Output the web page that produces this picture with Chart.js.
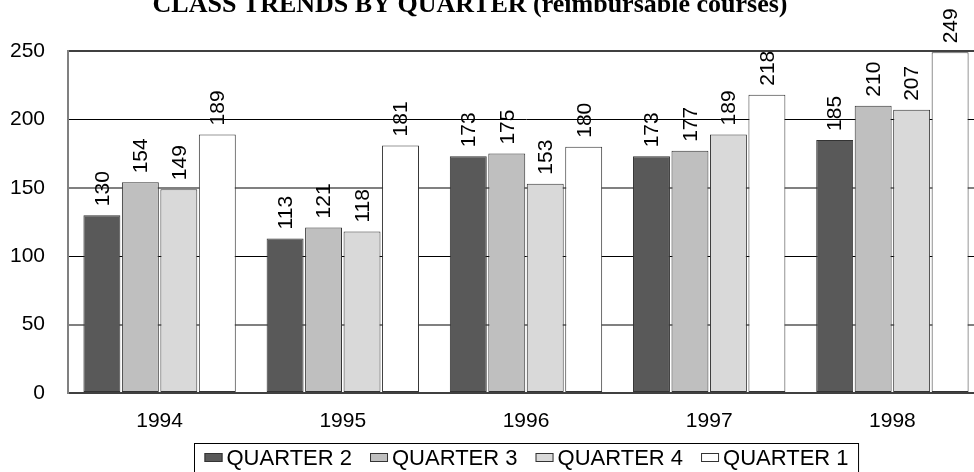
<!DOCTYPE html>
<html>
<head>
<meta charset="utf-8">
<script src="https://cdn.jsdelivr.net/npm/chart.js@4/dist/chart.umd.min.js"></script>
<style>
  html, body { margin: 0; padding: 0; background: #ffffff; overflow: hidden; }
  #wrap { width: 974px; height: 472px; overflow: hidden; position: relative; }
  canvas { display: block; }
</style>
</head>
<body>
<div id="wrap"><canvas id="chart" width="990" height="472"></canvas></div>
<script>
// Class counts per year, one array per quarter
const years = ['1994', '1995', '1996', '1997', '1998'];
const quarter2 = [130, 113, 173, 173, 185];
const quarter3 = [154, 121, 175, 177, 210];
const quarter4 = [149, 118, 153, 189, 207];
const quarter1 = [189, 181, 180, 218, 249];
const yTicks = [0, 50, 100, 150, 200, 250];

const seriesNames = ['QUARTER 2', 'QUARTER 3', 'QUARTER 4', 'QUARTER 1'];
const seriesValues = [quarter2, quarter3, quarter4, quarter1];
const seriesFill = ['#595959', '#bfbfbf', '#d9d9d9', '#ffffff'];

const SANS = '"Liberation Sans", Arial, sans-serif';
const SERIF = '"Liberation Serif", "Times New Roman", serif';

// Rotated value labels above every bar
const valueLabels = {
  id: 'valueLabels',
  afterDatasetsDraw(chart) {
    const ctx = chart.ctx;
    ctx.save();
    ctx.font = '21px ' + SANS;
    ctx.fillStyle = '#000';
    ctx.textAlign = 'left';
    ctx.textBaseline = 'middle';
    chart.data.datasets.forEach((ds, i) => {
      chart.getDatasetMeta(i).data.forEach((bar, j) => {
        ctx.save();
        ctx.translate(bar.x + 1, bar.y - 9);
        ctx.rotate(-Math.PI / 2);
        ctx.fillText(String(ds.data[j]), 0, 0);
        ctx.restore();
      });
    });
    ctx.restore();
  }
};

// Title and boxed legend
const decorations = {
  id: 'decorations',
  afterDraw(chart) {
    const ctx = chart.ctx;
    ctx.save();
    ctx.fillStyle = '#000';
    ctx.font = 'bold 26px ' + SERIF;
    ctx.textAlign = 'center';
    ctx.textBaseline = 'alphabetic';
    ctx.fillText('CLASS TRENDS BY QUARTER (reimbursable courses)', 470, 12);

    // legend
    ctx.font = '22px ' + SANS;
    const sw = 18, sh = 9, gapText = 4, gapItem = 18, margin = 10;
    const items = chart.data.datasets.map(ds => ({
      label: ds.label, fill: ds.backgroundColor, w: ctx.measureText(ds.label).width
    }));
    let total = 0;
    items.forEach((it, k) => { total += sw + gapText + it.w + (k ? gapItem : 0); });
    const boxW = total + margin * 2;
    const cx = (chart.chartArea.left + chart.chartArea.right) / 2;
    const boxL = Math.round(cx - boxW / 2) + 0.5;
    const boxTop = 443.5;
    ctx.strokeStyle = '#000';
    ctx.lineWidth = 1;
    ctx.strokeRect(boxL, boxTop, boxW, 60);
    let x = boxL + margin;
    const baseY = 465;
    ctx.textAlign = 'left';
    items.forEach((it, k) => {
      if (k) x += gapItem;
      ctx.fillStyle = it.fill;
      ctx.fillRect(x, 453, sw, sh);
      ctx.strokeStyle = '#333';
      ctx.strokeRect(x + 0.5, 453.5, sw - 1, sh - 1);
      x += sw + gapText;
      ctx.fillStyle = '#000';
      ctx.fillText(it.label, x, baseY);
      x += it.w;
    });
    ctx.restore();
  }
};

const datasets = seriesNames.map((name, i) => ({
  label: name,
  data: seriesValues[i],
  backgroundColor: seriesFill[i],
  borderColor: '#333333',
  borderWidth: 1,
  borderSkipped: false,
  categoryPercentage: 0.84,
  barPercentage: 0.96
}));

function gridColor(ctx) {
  const v = ctx.tick && ctx.tick.value;
  if (v === 250) return '#404040';
  if (v === 200 || v === 100) return '#000000';
  if (v === 0) return 'rgba(0,0,0,0)';
  return '#808080';
}
function gridWidth(ctx) {
  const v = ctx.tick && ctx.tick.value;
  if (v === 250) return 2;
  if (v === 200 || v === 100) return 1;
  return 2;
}

new Chart(document.getElementById('chart'), {
  type: 'bar',
  data: { labels: years, datasets },
  plugins: [valueLabels, decorations],
  options: {
    responsive: false,
    animation: false,
    devicePixelRatio: 1,
    layout: { padding: { top: 51, right: 6, bottom: 0, left: 0 } },
    plugins: {
      legend: { display: false },
      title: { display: false },
      tooltip: { enabled: false }
    },
    scales: {
      x: {
        grid: { display: false, drawTicks: false },
        border: { display: true, color: '#404040', width: 2 },
        ticks: { color: '#000', font: { family: SANS, size: 21 }, padding: 16 },
        afterFit(scale) { scale.height = 79; }
      },
      y: {
        min: 0,
        max: 250,
        afterBuildTicks(scale) { scale.ticks = yTicks.map(v => ({ value: v })); },
        grid: { color: gridColor, lineWidth: gridWidth, drawTicks: false },
        border: { display: true, color: '#808080', width: 2 },
        ticks: { color: '#000', font: { family: SANS, size: 21 }, padding: 23 },
        afterFit(scale) { scale.width = 68; }
      }
    }
  }
});
</script>
</body>
</html>
